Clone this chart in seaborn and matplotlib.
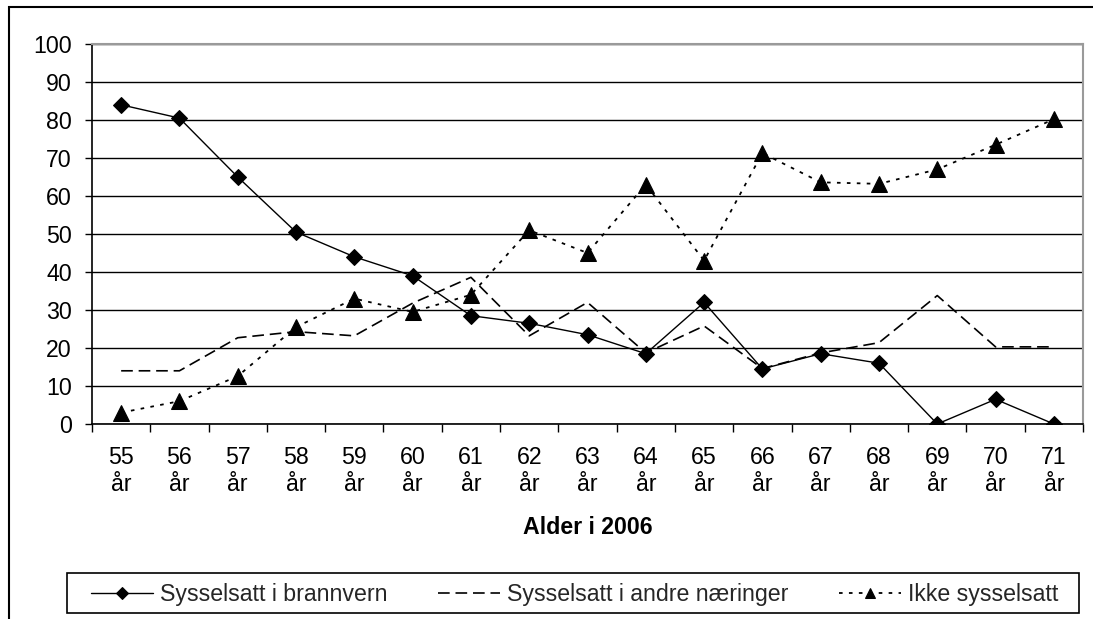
import numpy as np
import pandas as pd
import matplotlib
matplotlib.use("Agg")
import matplotlib.pyplot as plt
from matplotlib.patches import Rectangle
import seaborn as sns

# ---- data ----
ages = ["55", "56", "57", "58", "59", "60", "61", "62", "63", "64",
        "65", "66", "67", "68", "69", "70", "71"]
brannvern = [84, 80.5, 65, 50.5, 44, 39, 28.5, 26.5, 23.5, 18.5,
             32, 14.5, 18.5, 16, 0, 6.5, 0]
andre = [14, 14, 22.7, 24.3, 23.2, 31.8, 38.6, 23.2, 32, 18.7,
         25.8, 14.6, 18.7, 21.4, 33.8, 20.3, 20.3]
ikke = [3, 6, 12.6, 25.5, 33, 29.5, 34, 51, 45, 63,
        43, 71.3, 63.6, 63.2, 67, 73.5, 80.2]
series_names = ["Sysselsatt i brannvern", "Sysselsatt i andre næringer", "Ikke sysselsatt"]
x_title = "Alder i 2006"
y_ticks = list(range(0, 101, 10))

tick_labels = [f"{a}\når" for a in ages]

sns.set_theme(style="white")
plt.rcParams["font.family"] = ["Liberation Sans", "DejaVu Sans"]
FS = 16.7

W, H = 1093, 619
fig = plt.figure(figsize=(W / 100, H / 100), dpi=100)
ax = fig.add_axes([92 / W, 1 - 424 / H, (1083 - 92) / W, (424 - 44) / H])

sns.lineplot(x=tick_labels, y=brannvern, ax=ax, color="black", lw=1.0,
             marker="D", markersize=8.5, markeredgecolor="black",
             label=series_names[0], sort=False)
sns.lineplot(x=tick_labels, y=andre, ax=ax, color="black", lw=1.2,
             linestyle=(0, (7, 3.5)), label=series_names[1], sort=False)
sns.lineplot(x=tick_labels, y=ikke, ax=ax, color="black", lw=1.3,
             linestyle=(0, (2, 3.5)), marker="^", markersize=11,
             markeredgecolor="black", label=series_names[2], sort=False)

ax.set_xlim(-0.5, len(ages) - 0.5)
ax.set_ylim(0, 100)
ax.set_yticks(y_ticks)
ax.set_yticklabels([str(v) for v in y_ticks], fontsize=FS, color="black")
ax.set_xticks(range(len(ages)))
ax.set_xticklabels(tick_labels, fontsize=FS, color="black", linespacing=1.2)
ax.set_xticks(np.arange(-0.5, len(ages), 1), minor=True)
ax.tick_params(axis="x", which="major", length=0, pad=16)
ax.tick_params(axis="x", which="minor", length=6, width=1, color="black", direction="out", bottom=True)
ax.tick_params(axis="y", which="major", length=5, width=1, color="black", direction="out", left=True, pad=9.5)

ax.set_axisbelow(True)
ax.grid(axis="y", color="black", lw=1.0)
ax.grid(axis="x", visible=False)
for side in ["left", "bottom"]:
    ax.spines[side].set_color("black")
    ax.spines[side].set_linewidth(1.2)
for side in ["top", "right"]:
    ax.spines[side].set_color("#9a9a9a")
    ax.spines[side].set_linewidth(1.5)

ax.set_xlabel(x_title, fontsize=FS, fontweight="bold", color="black")
ax.xaxis.set_label_coords(0.5, (424 - 527) / 380)
ax.xaxis.label.set_va("center")
ax.set_ylabel("")

# legend
ax.get_legend().remove()
handles, labels = ax.get_legend_handles_labels()
leg = fig.legend(handles, labels, loc="lower left",
                 bbox_to_anchor=(91 / W, 1 - 606 / H, (1058 - 91) / W, 26 / H),
                 bbox_transform=fig.transFigure, mode="expand", ncol=3,
                 frameon=False, fontsize=FS, borderpad=0, borderaxespad=0,
                 handlelength=2.67, handletextpad=0.3, markerscale=0.7)
fig.patches.append(Rectangle((67 / W, 1 - 613 / H), (1079 - 67) / W, 40 / H,
                             transform=fig.transFigure, fill=False,
                             edgecolor="black", lw=1.2))
# outer chart border
fig.patches.append(Rectangle((9 / W, -0.2), 1.2, 1.2 - 7 / H,
                             transform=fig.transFigure, fill=False,
                             edgecolor="black", lw=1.5))

fig.savefig("out.png", dpi=100)
